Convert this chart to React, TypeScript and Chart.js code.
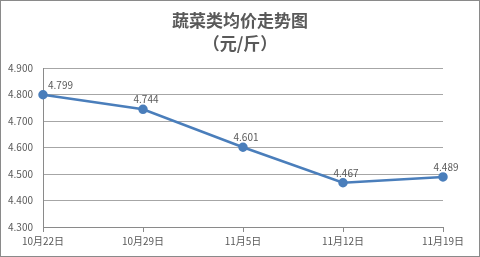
import React, { useEffect, useRef } from "react";
import { Chart, registerables } from "chart.js";

Chart.register(...registerables);

const categories = ["10月22日", "10月29日", "11月5日", "11月12日", "11月19日"];
const prices = [4.799, 4.744, 4.601, 4.467, 4.489];
const titleLines = ["蔬菜类均价走势图", "（元/斤）"];
const yMin = 4.3;
const yMax = 4.9;
const yStep = 0.1;

const TEXT = "#595959";
const FONT = "'Noto Sans CJK SC', 'Liberation Sans', sans-serif";

const framePlugin = {
  id: "frame",
  beforeDraw(chart: any) {
    const { ctx, width, height } = chart;
    ctx.save();
    ctx.fillStyle = "#ffffff";
    ctx.fillRect(0, 0, width, height);
    ctx.restore();
  },
  afterDraw(chart: any) {
    const { ctx, width, height } = chart;
    ctx.save();
    ctx.strokeStyle = "#8a8a8a";
    ctx.lineWidth = 1;
    ctx.strokeRect(0.5, 0.5, width - 1, height - 1);
    ctx.fillStyle = TEXT;
    ctx.textAlign = "center";
    ctx.textBaseline = "middle";
    ctx.font = `bold 17px ${FONT}`;
    ctx.fillText(titleLines[0], width / 2, 21);
    ctx.fillText(titleLines[1], width / 2, 44);
    ctx.restore();
  },
};

const labelPlugin = {
  id: "pointLabels",
  afterDatasetsDraw(chart: any) {
    const { ctx, chartArea } = chart;
    const meta = chart.getDatasetMeta(0);
    ctx.save();
    ctx.fillStyle = TEXT;
    ctx.font = `10px ${FONT}`;
    ctx.textAlign = "center";
    ctx.textBaseline = "middle";
    meta.data.forEach((pt: any, i: number) => {
      const txt = prices[i].toFixed(3);
      const w = ctx.measureText(txt).width;
      let x = pt.x;
      if (x - w / 2 < chartArea.left + 2) x = chartArea.left + 2 + w / 2;
      ctx.fillText(txt, x + 3, pt.y - 10);
    });
    ctx.restore();
  },
};

export default function App() {
  const ref = useRef<HTMLCanvasElement>(null);
  useEffect(() => {
    if (!ref.current) return;
    const chart = new Chart(ref.current, {
      type: "line",
      data: {
        labels: categories,
        datasets: [
          {
            data: prices,
            borderColor: "#4a7ebb",
            backgroundColor: "#4a7ebb",
            borderWidth: 2.5,
            pointRadius: 3.5,
            pointHoverRadius: 3.5,
            tension: 0,
          },
        ],
      },
      options: {
        responsive: false,
        animation: false,
        layout: { padding: { top: 68, right: 37, left: 0, bottom: 0 } },
        plugins: {
          legend: { display: false },
          title: { display: false },
          tooltip: { enabled: false },
        },
        scales: {
          x: {
            type: "category",
            offset: false,
            grid: {
              display: true,
              drawOnChartArea: false,
              drawTicks: true,
              tickLength: 5,
              color: "#8a8a8a",
              offset: false,
            },
            border: { display: true, color: "#8a8a8a" },
            ticks: {
              color: TEXT,
              font: { family: FONT, size: 10 },
              padding: 3,
              maxRotation: 0,
              autoSkip: false,
            },
            afterFit(scale: any) {
              scale.height = 30;
            },
          },
          y: {
            min: yMin,
            max: yMax,
            grid: { color: "#a6a6a6", drawTicks: false },
            border: { display: true, color: "#8a8a8a" },
            ticks: {
              stepSize: yStep,
              color: TEXT,
              font: { family: FONT, size: 10 },
              padding: 10,
              callback: (v: any) => Number(v).toFixed(3),
            },
            afterFit(scale: any) {
              scale.width = 43;
            },
          },
        },
      },
      plugins: [framePlugin, labelPlugin],
    });
    return () => chart.destroy();
  }, []);
  return (
    <div style={{ position: "fixed", left: 0, top: 0, width: 480, height: 257 }}>
      <canvas ref={ref} width={480} height={257} style={{ width: 480, height: 257, display: "block" }} />
    </div>
  );
}
